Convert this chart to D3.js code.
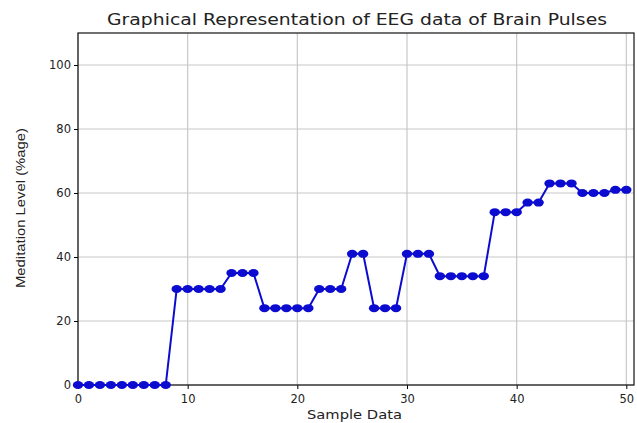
<!DOCTYPE html>
<html>
<head>
<meta charset="utf-8">
<script src="https://cdn.jsdelivr.net/npm/d3@7"></script>
<style>
  body { margin: 0; background: #fff; }
  text { font-family: "DejaVu Sans", sans-serif; fill: #222; }
</style>
</head>
<body>
<svg id="chart"></svg>
<script>
// meditation level for each sample (0..50)
var samples = d3.range(0, 51)
var meditation = [0, 0, 0, 0, 0, 0, 0, 0, 0,
    30, 30, 30, 30, 30,
    35, 35, 35,
    24, 24, 24, 24, 24,
    30, 30, 30,
    41, 41,
    24, 24, 24,
    41, 41, 41,
    34, 34, 34, 34, 34,
    54, 54, 54,
    57, 57,
    63, 63, 63,
    60, 60, 60,
    61, 61]
var xTicks = [0, 10, 20, 30, 40, 50]
var yTicks = [0, 20, 40, 60, 80, 100]

var dataset = samples.map(function(s, i){ return {x: s, y: meditation[i]} })

var dimensions = {
    width: 637,
    height: 423,
    margin: {
        top: 33,
        bottom: 38,
        right: 3,
        left: 78
    }
}

var svg = d3.select("#chart")
    .attr("width", dimensions.width)
    .attr("height", dimensions.height)

var xScale = d3.scaleLinear()
    .domain([0, 50.7])
    .range([dimensions.margin.left, dimensions.width - dimensions.margin.right])

var yScale = d3.scaleLinear()
    .domain([0, 110])
    .range([dimensions.height - dimensions.margin.bottom, dimensions.margin.top])

// grid
svg.append("g")
    .selectAll("line.vx")
    .data(xTicks)
    .enter()
    .append("line")
    .attr("x1", d => xScale(d)).attr("x2", d => xScale(d))
    .attr("y1", yScale(0)).attr("y2", yScale(110))
    .attr("stroke", "#c8c8c8")
    .attr("stroke-width", 1.2)

svg.append("g")
    .selectAll("line.hy")
    .data(yTicks)
    .enter()
    .append("line")
    .attr("x1", xScale(0)).attr("x2", xScale(50.7))
    .attr("y1", d => yScale(d)).attr("y2", d => yScale(d))
    .attr("stroke", "#c8c8c8")
    .attr("stroke-width", 1.2)

// axes
var xAxisGen = d3.axisBottom(xScale).tickValues(xTicks).tickSize(4).tickSizeOuter(0)
var yAxisGen = d3.axisLeft(yScale).tickValues(yTicks).tickSize(4).tickSizeOuter(0)

var xAxis = svg.append("g")
    .attr("transform", "translate(0," + (dimensions.height - dimensions.margin.bottom) + ")")
    .call(xAxisGen)
xAxis.select(".domain").remove()
xAxis.selectAll("text").style("font-size", "11.5px").attr("dy", "0.95em").attr("fill", "#222")

var yAxis = svg.append("g")
    .attr("transform", "translate(" + dimensions.margin.left + ",0)")
    .call(yAxisGen)
yAxis.select(".domain").remove()
yAxis.selectAll("text").style("font-size", "11.5px").attr("x", -7).attr("fill", "#222")

// frame
svg.append("rect")
    .attr("x", xScale(0))
    .attr("y", yScale(110))
    .attr("width", xScale(50.7) - xScale(0))
    .attr("height", yScale(0) - yScale(110))
    .attr("fill", "none")
    .attr("stroke", "#111")
    .attr("stroke-width", 1.2)

// line + markers
var line = d3.line()
    .x(d => xScale(d.x))
    .y(d => yScale(d.y))

svg.append("path")
    .datum(dataset)
    .attr("d", line)
    .attr("fill", "none")
    .attr("stroke", "#0c0cd0")
    .attr("stroke-width", 2)

svg.append("g")
    .selectAll("ellipse")
    .data(dataset)
    .enter()
    .append("ellipse")
    .attr("cx", d => xScale(d.x))
    .attr("cy", d => yScale(d.y))
    .attr("rx", 5.2)
    .attr("ry", 4)
    .attr("fill", "#0c0cd0")

// labels (source image is stretched horizontally, so widths are fixed)
svg.append("text")
    .attr("x", 107)
    .attr("y", 25)
    .attr("textLength", 500)
    .attr("lengthAdjust", "spacingAndGlyphs")
    .style("font-size", "15px")
    .text("Graphical Representation of EEG data of Brain Pulses")

svg.append("text")
    .attr("x", 307)
    .attr("y", 419)
    .attr("textLength", 95)
    .attr("lengthAdjust", "spacingAndGlyphs")
    .style("font-size", "12.5px")
    .text("Sample Data")

svg.append("text")
    .attr("transform", "rotate(-90)")
    .attr("x", -288)
    .attr("y", 25)
    .attr("textLength", 160)
    .attr("lengthAdjust", "spacingAndGlyphs")
    .style("font-family", "'Liberation Sans', Arial, sans-serif")
    .style("font-size", "12.5px")
    .text("Meditation Level (%age)")
</script>
</body>
</html>
